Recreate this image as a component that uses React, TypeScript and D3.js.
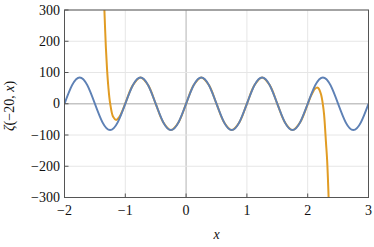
import React, { useEffect, useRef } from 'react';
import * as d3 from 'd3';

// periodic curve, sampled every 1/8 on [-2, 3]
const blueX = d3.range(41).map(i => -2 + i / 8);
const blueCycle = [0, 59.5, 84.2, 59.5, 0, -59.5, -84.2, -59.5];
const blueY = [
  ...blueCycle, ...blueCycle, ...blueCycle, ...blueCycle, ...blueCycle, 0,
];

// polynomial curve, leaves the periodic one near both ends
const orangeX = [
  -1.345, -1.32, -1.3, -1.28, -1.25, -1.2, -1.15, -1.1, -1.05, -1.0,
  -0.875, -0.75, -0.625, -0.5, -0.375, -0.25, -0.125, 0,
  0.125, 0.25, 0.375, 0.5, 0.625, 0.75, 0.875, 1,
  1.125, 1.25, 1.375, 1.5, 1.625, 1.75, 1.875, 2.0,
  2.05, 2.1, 2.12, 2.15, 2.17, 2.19, 2.22, 2.25, 2.27, 2.3, 2.32, 2.345,
];
const orangeY = [
  306, 182, 110, 56.7, 2.5, -41.7, -51.7, -42.8, -23.4, 1,
  59.6, 84.2, 59.5, 0, -59.5, -84.2, -59.5, 0,
  59.5, 84.2, 59.5, 0, -59.5, -84.2, -59.5, 0,
  59.5, 84.2, 59.5, 0, -59.5, -84.2, -59.6, -1,
  23.4, 42.8, 48, 51.6, 50.7, 45.9, 29.3, -2.5, -35.6, -122, -182, -306,
];

const xTicks = [-2, -1, 0, 1, 2, 3];
const yTicks = [-300, -200, -100, 0, 100, 200, 300];

const fmt = (v: number) => (v < 0 ? '\u2212' + Math.abs(v) : String(v));

export default function App() {
  const ref = useRef<SVGSVGElement | null>(null);

  useEffect(() => {
    if (!ref.current) return;
    const svg = d3.select(ref.current);
    svg.selectAll('*').remove();

    const left = 64.5, right = 368.5, top = 10, bottom = 197.5;
    const x = d3.scaleLinear().domain([-2, 3]).range([left, right]);
    const y = d3.scaleLinear().domain([-300, 300]).range([bottom, top]);
    const font = 'Liberation Serif, DejaVu Serif, serif';

    svg.append('clipPath').attr('id', 'plot')
      .append('rect')
      .attr('x', left).attr('y', top)
      .attr('width', right - left).attr('height', bottom - top);

    // grid
    const grid = svg.append('g');
    grid.selectAll('line.v')
      .data(xTicks)
      .join('line')
        .attr('x1', d => x(d)).attr('x2', d => x(d))
        .attr('y1', top).attr('y2', bottom)
        .attr('stroke', d => (d === 0 ? '#c4c4c4' : '#e6e6e6'))
        .attr('stroke-width', d => (d === 0 ? 1.3 : 1));
    grid.selectAll('line.h')
      .data(yTicks)
      .join('line')
        .attr('x1', left).attr('x2', right)
        .attr('y1', d => y(d)).attr('y2', d => y(d))
        .attr('stroke', d => (d === 0 ? '#c4c4c4' : '#e6e6e6'))
        .attr('stroke-width', d => (d === 0 ? 1.3 : 1));

    const lines = svg.append('g').attr('clip-path', 'url(#plot)');

    const orange = d3.line<number>()
      .x((_, i) => x(orangeX[i]))
      .y(d => y(d))
      .curve(d3.curveCatmullRom);
    lines.append('path')
      .attr('d', orange(orangeY))
      .attr('fill', 'none')
      .attr('stroke', '#e19c24')
      .attr('stroke-width', 2);

    const blue = d3.line<number>()
      .x((_, i) => x(blueX[i]))
      .y(d => y(d))
      .curve(d3.curveNatural);
    lines.append('path')
      .attr('d', blue(blueY))
      .attr('fill', 'none')
      .attr('stroke', '#5e81b5')
      .attr('stroke-width', 2);

    // frame
    svg.append('rect')
      .attr('x', left).attr('y', top)
      .attr('width', right - left).attr('height', bottom - top)
      .attr('fill', 'none')
      .attr('stroke', '#555')
      .attr('stroke-width', 1);

    // ticks
    svg.append('g').selectAll('line')
      .data(xTicks)
      .join('line')
        .attr('x1', d => x(d)).attr('x2', d => x(d))
        .attr('y1', bottom).attr('y2', bottom - 4)
        .attr('stroke', '#555');
    svg.append('g').selectAll('line')
      .data(yTicks)
      .join('line')
        .attr('x1', left).attr('x2', left + 4)
        .attr('y1', d => y(d)).attr('y2', d => y(d))
        .attr('stroke', '#555');

    // tick labels
    svg.append('g').selectAll('text')
      .data(xTicks)
      .join('text')
        .attr('x', d => x(d))
        .attr('y', 215)
        .attr('text-anchor', 'middle')
        .style('font-family', font)
        .style('font-size', '14px')
        .attr('fill', '#111')
        .text(d => fmt(d));
    svg.append('g').selectAll('text')
      .data(yTicks)
      .join('text')
        .attr('x', 60)
        .attr('y', d => y(d) + 4.7)
        .attr('text-anchor', 'end')
        .style('font-family', font)
        .style('font-size', '14px')
        .attr('fill', '#111')
        .text(d => fmt(d));

    // axis titles
    svg.append('text')
      .attr('x', (left + right) / 2)
      .attr('y', 239)
      .attr('text-anchor', 'middle')
      .style('font-family', font)
      .style('font-size', '14px')
      .style('font-style', 'italic')
      .attr('fill', '#111')
      .text('x');

    const yl = svg.append('text')
      .attr('transform', 'translate(14,106) rotate(-90)')
      .attr('text-anchor', 'middle')
      .style('font-family', font)
      .style('font-size', '14px')
      .attr('fill', '#111');
    yl.append('tspan').style('font-style', 'italic').text('\u03b6');
    yl.append('tspan').text('(\u221220, ');
    yl.append('tspan').style('font-style', 'italic').text('x');
    yl.append('tspan').text(')');
  }, []);

  return (
    <svg
      ref={ref}
      width={374}
      height={247}
      style={{ position: 'absolute', left: 0, top: 0, background: '#fff' }}
    />
  );
}
